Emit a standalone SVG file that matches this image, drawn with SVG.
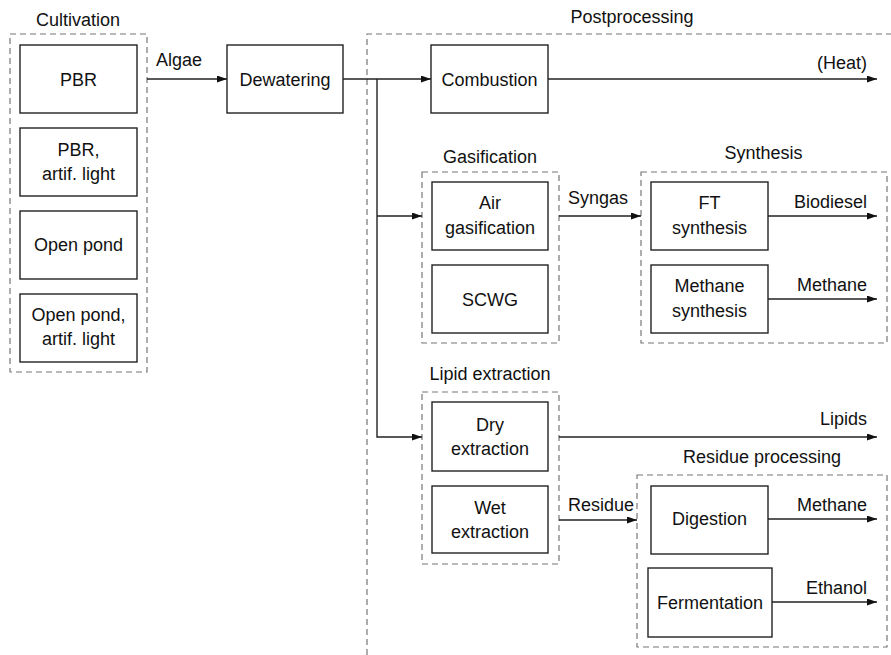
<svg xmlns="http://www.w3.org/2000/svg" width="891" height="655" viewBox="0 0 891 655">
<defs>
<style>
text{font-family:"Liberation Sans",Arial,sans-serif;font-size:18px;fill:#111}
.m{text-anchor:middle}
.e{text-anchor:end}
.box{fill:#fff;stroke:#222;stroke-width:1.4}
.grp{fill:none;stroke:#777;stroke-width:1.2;stroke-dasharray:6,4}
.c{fill:none;stroke:#222;stroke-width:1.4}
</style>
<marker id="ah" markerUnits="userSpaceOnUse" markerWidth="10" markerHeight="8" refX="10" refY="3.5" orient="auto">
<path d="M0,0 L10,3.5 L0,7 z" fill="#111"/>
</marker>
</defs>
<rect width="891" height="655" fill="#fff"/>

<g id="cultivation">
<rect class="grp" x="10" y="34" width="137" height="338"/>
<text class="m" x="78" y="26">Cultivation</text>
</g>
<g id="postprocessing">
<path class="grp" d="M367,655 V34 H891"/>
<text class="m" x="632" y="22.5">Postprocessing</text>
</g>
<g id="gasification">
<rect class="grp" x="422" y="172" width="137" height="171"/>
<text class="m" x="490" y="162.5">Gasification</text>
</g>
<g id="synthesis">
<rect class="grp" x="641" y="172" width="246" height="171"/>
<text class="m" x="763.5" y="159">Synthesis</text>
</g>
<g id="lipid-extraction">
<rect class="grp" x="422" y="392" width="137" height="172"/>
<text class="m" x="490" y="380">Lipid extraction</text>
</g>
<g id="residue-processing">
<rect class="grp" x="637" y="475" width="250" height="172"/>
<text class="m" x="762" y="462.5">Residue processing</text>
</g>

<g id="connectors">
<line class="c" x1="147" y1="79" x2="227" y2="79" marker-end="url(#ah)"/>
<line class="c" x1="343" y1="79" x2="431" y2="79" marker-end="url(#ah)"/>
<polyline class="c" points="377,79 377,437 422,437" marker-end="url(#ah)"/>
<line class="c" x1="377" y1="216" x2="422" y2="216" marker-end="url(#ah)"/>
<line class="c" x1="548" y1="79" x2="877" y2="79" marker-end="url(#ah)"/>
<line class="c" x1="559" y1="216" x2="641" y2="216" marker-end="url(#ah)"/>
<line class="c" x1="768" y1="216" x2="877" y2="216" marker-end="url(#ah)"/>
<line class="c" x1="768" y1="299" x2="877" y2="299" marker-end="url(#ah)"/>
<line class="c" x1="559" y1="437" x2="877" y2="437" marker-end="url(#ah)"/>
<line class="c" x1="559" y1="520" x2="637" y2="520" marker-end="url(#ah)"/>
<line class="c" x1="768" y1="519" x2="877" y2="519" marker-end="url(#ah)"/>
<line class="c" x1="772" y1="602" x2="877" y2="602" marker-end="url(#ah)"/>
<text class="m" x="179" y="66">Algae</text>
<text class="e" x="867" y="68.5">(Heat)</text>
<text class="m" x="598" y="204">Syngas</text>
<text class="e" x="867" y="208">Biodiesel</text>
<text class="e" x="867" y="290.5">Methane</text>
<text class="e" x="867" y="425">Lipids</text>
<text class="m" x="601" y="511">Residue</text>
<text class="e" x="867" y="511">Methane</text>
<text class="e" x="867" y="594">Ethanol</text>
</g>

<g id="pbr">
<rect class="box" x="20" y="45" width="117" height="68"/>
<text class="m" x="78.5" y="85.5">PBR</text>
</g>
<g id="pbr-artif">
<rect class="box" x="20" y="128" width="117" height="68"/>
<text class="m" x="78.5" y="156">PBR,</text>
<text class="m" x="78.5" y="179.5">artif. light</text>
</g>
<g id="open-pond">
<rect class="box" x="20" y="211" width="117" height="68"/>
<text class="m" x="78.5" y="251">Open pond</text>
</g>
<g id="open-pond-artif">
<rect class="box" x="20" y="294" width="117" height="68"/>
<text class="m" x="78.5" y="321">Open pond,</text>
<text class="m" x="78.5" y="345">artif. light</text>
</g>
<g id="dewatering">
<rect class="box" x="227" y="45" width="116" height="68"/>
<text class="m" x="285" y="85.5">Dewatering</text>
</g>
<g id="combustion">
<rect class="box" x="431" y="45" width="117" height="68"/>
<text class="m" x="489.5" y="85.5">Combustion</text>
</g>
<g id="air-gasification">
<rect class="box" x="432" y="182" width="116" height="68"/>
<text class="m" x="490" y="209">Air</text>
<text class="m" x="490" y="233.5">gasification</text>
</g>
<g id="scwg">
<rect class="box" x="432" y="265" width="116" height="68"/>
<text class="m" x="490" y="305.5">SCWG</text>
</g>
<g id="ft-synthesis">
<rect class="box" x="651" y="182" width="117" height="68"/>
<text class="m" x="709.5" y="209">FT</text>
<text class="m" x="709.5" y="233.5">synthesis</text>
</g>
<g id="methane-synthesis">
<rect class="box" x="651" y="265" width="117" height="68"/>
<text class="m" x="709.5" y="292">Methane</text>
<text class="m" x="709.5" y="316.5">synthesis</text>
</g>
<g id="dry-extraction">
<rect class="box" x="432" y="402" width="116" height="69"/>
<text class="m" x="490" y="430.5">Dry</text>
<text class="m" x="490" y="455">extraction</text>
</g>
<g id="wet-extraction">
<rect class="box" x="432" y="486" width="116" height="67"/>
<text class="m" x="490" y="513.5">Wet</text>
<text class="m" x="490" y="538">extraction</text>
</g>
<g id="digestion">
<rect class="box" x="651" y="486" width="117" height="68"/>
<text class="m" x="709.5" y="525">Digestion</text>
</g>
<g id="fermentation">
<rect class="box" x="648" y="568" width="124" height="69"/>
<text class="m" x="710" y="608.5">Fermentation</text>
</g>
</svg>
